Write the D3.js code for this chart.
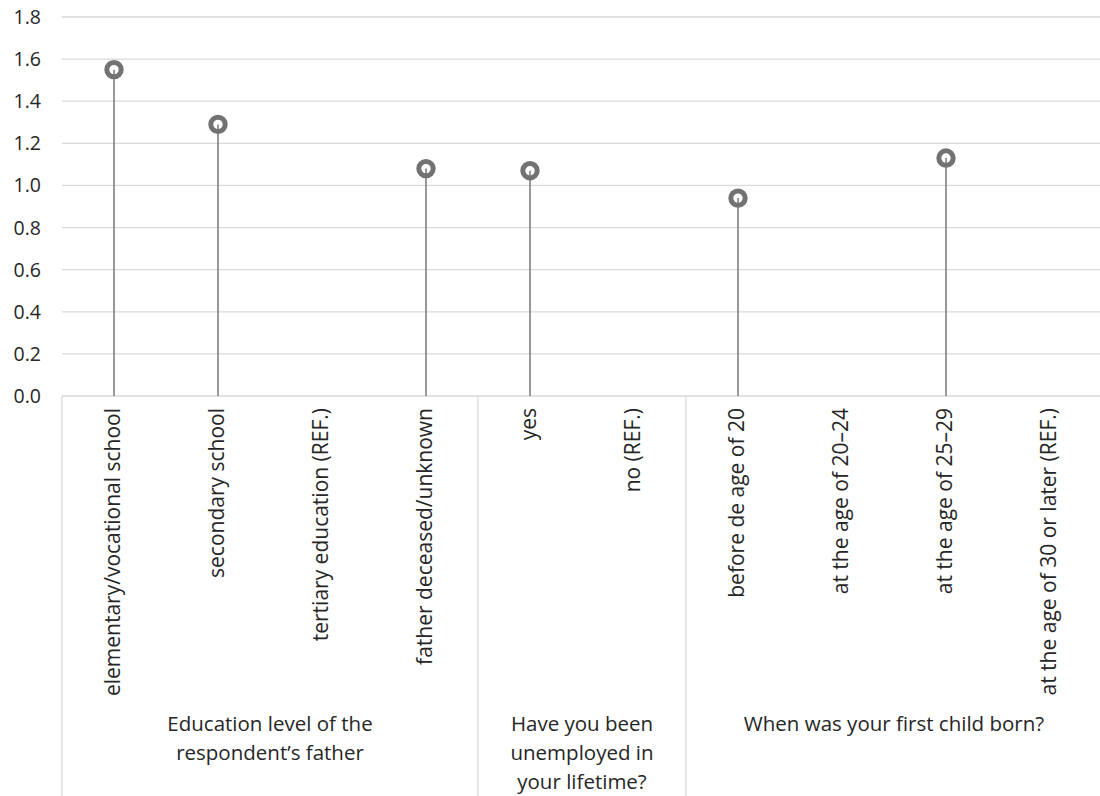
<!DOCTYPE html>
<html>
<head>
<meta charset="utf-8">
<script src="https://cdn.jsdelivr.net/npm/d3@7"></script>
<style>
  body { margin: 0; background: #fff; }
  svg { display: block; font-family: "Open Sans", "Liberation Sans", sans-serif; }
</style>
</head>
<body>
<div id="chart"></div>
<script>
(function () {
    'use strict';
    var categories = [
            "elementary/vocational school",
            "secondary school",
            "tertiary education (REF.)",
            "father deceased/unknown",
            "yes",
            "no (REF.)",
            "before de age of 20",
            "at the age of 20\u201324",
            "at the age of 25\u201329",
            "at the age of 30 or later (REF.)"
        ],
        values = [1.55, 1.29, null, 1.08, 1.07, null, 0.94, null, 1.13, null],
        groupNames = [
            ["Education level of the", "respondent\u2019s father"],
            ["Have you been", "unemployed in", "your lifetime?"],
            ["When was your first child born?"]
        ],
        groupSizes = [4, 2, 4],
        yTicks = [0, 0.2, 0.4, 0.6, 0.8, 1.0, 1.2, 1.4, 1.6, 1.8];

    var width = 1100, height = 796,
        left = 62, right = 1102, top = 17, bottom = 396,
        textColor = "#262626", gridColor = "#d9d9d9";

    var svg = d3.select("#chart").append("svg")
        .attr("width", width)
        .attr("height", height);

    var x = d3.scaleBand().domain(d3.range(categories.length)).range([left, right]);
    var y = d3.scaleLinear().domain([0, 1.8]).range([bottom, top]);

    function cx(i) { return x(i) + x.bandwidth() / 2; }

    // gridlines
    svg.append("g").selectAll("line")
        .data(yTicks)
        .enter().append("line")
        .attr("x1", left).attr("x2", width)
        .attr("y1", function (d) { return y(d); })
        .attr("y2", function (d) { return y(d); })
        .attr("stroke", gridColor)
        .attr("stroke-width", 1.3);

    // y tick labels
    svg.append("g").selectAll("text")
        .data(yTicks)
        .enter().append("text")
        .attr("x", 41)
        .attr("y", function (d) { return y(d); })
        .attr("dy", "0.36em")
        .attr("text-anchor", "end")
        .style("font-size", "19.5px")
        .style("fill", textColor)
        .text(function (d) { return d.toFixed(1); });

    // group separators
    var bounds = [0];
    groupSizes.forEach(function (n, i) { bounds.push(bounds[i] + n); });
    var step = x.step();
    svg.append("g").selectAll("line")
        .data(bounds)
        .enter().append("line")
        .attr("x1", function (d) { return left + d * step; })
        .attr("x2", function (d) { return left + d * step; })
        .attr("y1", bottom).attr("y2", height)
        .attr("stroke", gridColor)
        .attr("stroke-width", 1.3);

    // category labels, rotated
    svg.append("g").selectAll("text")
        .data(categories)
        .enter().append("text")
        .attr("transform", function (d, i) {
            return "translate(" + (cx(i) + 5.5) + "," + (bottom + 12) + ") rotate(-90)";
        })
        .attr("text-anchor", "end")
        .style("font-size", "21px")
        .style("fill", textColor)
        .text(function (d) { return d; });

    // group labels
    var grp = svg.append("g").selectAll("text")
        .data(groupNames)
        .enter().append("text")
        .attr("x", function (d, i) { return left + (bounds[i] + bounds[i + 1]) / 2 * step; })
        .attr("y", 731)
        .attr("text-anchor", "middle")
        .style("font-size", "20.5px")
        .style("fill", textColor);
    grp.selectAll("tspan")
        .data(function (d) { return d; })
        .enter().append("tspan")
        .attr("x", function () { return d3.select(this.parentNode).attr("x"); })
        .attr("dy", function (d, i) { return i ? 29 : 0; })
        .text(function (d) { return d; });

    // lollipops
    var pts = values.map(function (v, i) { return {i: i, v: v}; })
        .filter(function (d) { return d.v !== null; });

    svg.append("g").selectAll("line")
        .data(pts)
        .enter().append("line")
        .attr("x1", function (d) { return cx(d.i); })
        .attr("x2", function (d) { return cx(d.i); })
        .attr("y1", y(0))
        .attr("y2", function (d) { return y(d.v); })
        .attr("stroke", "#767676")
        .attr("stroke-width", 1.5);

    svg.append("g").selectAll("circle")
        .data(pts)
        .enter().append("circle")
        .attr("cx", function (d) { return cx(d.i); })
        .attr("cy", function (d) { return y(d.v); })
        .attr("r", 7.2)
        .attr("fill", "#fff")
        .attr("stroke", "#727272")
        .attr("stroke-width", 5);

    // stem visible inside the ring
    svg.append("g").selectAll("line")
        .data(pts)
        .enter().append("line")
        .attr("x1", function (d) { return cx(d.i); })
        .attr("x2", function (d) { return cx(d.i); })
        .attr("y1", function (d) { return y(d.v); })
        .attr("y2", function (d) { return y(d.v) + 6; })
        .attr("stroke", "#767676")
        .attr("stroke-width", 1.5);
}());
</script>
</body>
</html>
